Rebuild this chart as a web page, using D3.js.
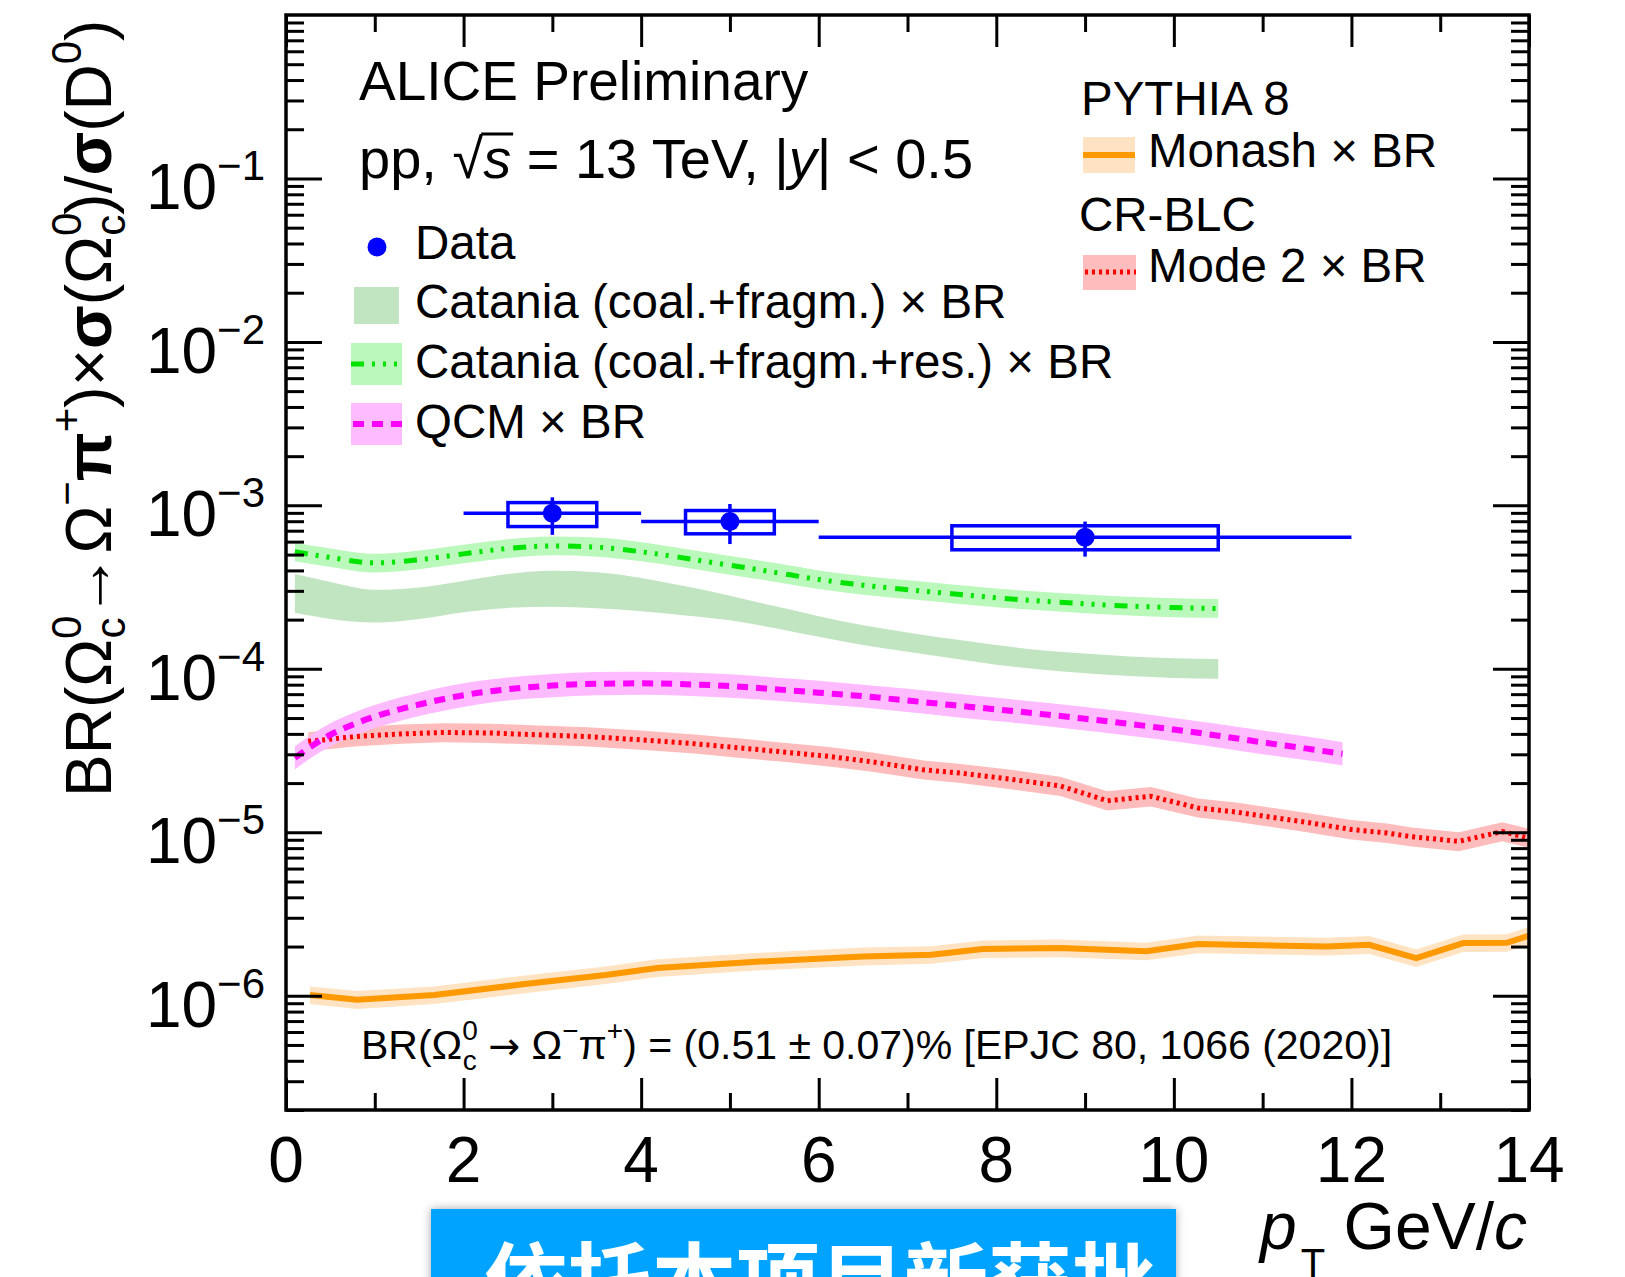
<!DOCTYPE html>
<html><head><meta charset="utf-8">
<script src="https://cdn.jsdelivr.net/npm/d3@7"></script>
<style>
body{margin:0;background:#fff;}
svg text{font-family:"Liberation Sans",Arial,Helvetica,sans-serif;fill:#000;}
</style>
</head><body>
<svg id="c" width="1625" height="1277"></svg>
<script>
// ---------------- data ----------------
const xTickMajor=[0,2,4,6,8,10,12,14];
const xTickLabels=["0","2","4","6","8","10","12","14"];
const yTickExps=[-1,-2,-3,-4,-5,-6];

const dataPt=[3,5,9];
const dataVal=[8.96e-4,7.96e-4,6.39e-4];
const dataXlo=[2,4,6];
const dataXhi=[4,6,12];
const dataStatLo=[6.6e-4,5.8e-4,4.86e-4];
const dataStatHi=[1.12e-3,1.02e-3,7.96e-4];
const dataSysXlo=[2.5,4.5,7.5];
const dataSysXhi=[3.5,5.5,10.5];
const dataSysLo=[7.42e-4,6.7e-4,5.35e-4];
const dataSysHi=[1.04e-3,9.3e-4,7.5e-4];

const catX=[0.1,0.5,1,1.5,2,2.5,3,3.5,4,4.5,5,5.5,6,6.5,7,7.5,8,8.5,9,9.5,10,10.5];
const catFragHi=[3.8e-4,3.4e-4,3.05e-4,3.15e-4,3.45e-4,3.8e-4,3.98e-4,3.9e-4,3.6e-4,3.2e-4,2.8e-4,2.42e-4,2.1e-4,1.85e-4,1.67e-4,1.52e-4,1.4e-4,1.3e-4,1.24e-4,1.19e-4,1.16e-4,1.15e-4];
const catFragLo=[2.2e-4,2.02e-4,1.92e-4,2.02e-4,2.22e-4,2.36e-4,2.4e-4,2.35e-4,2.25e-4,2.12e-4,1.98e-4,1.78e-4,1.57e-4,1.4e-4,1.27e-4,1.16e-4,1.06e-4,0.99e-4,0.94e-4,0.905e-4,0.88e-4,0.87e-4];
const catResMid=[5.2e-4,4.8e-4,4.45e-4,4.65e-4,5.05e-4,5.45e-4,5.65e-4,5.55e-4,5.2e-4,4.75e-4,4.3e-4,3.9e-4,3.52e-4,3.25e-4,3.05e-4,2.88e-4,2.72e-4,2.6e-4,2.5e-4,2.42e-4,2.37e-4,2.34e-4];
const catResHi=[5.9e-4,5.45e-4,5.05e-4,5.3e-4,5.75e-4,6.2e-4,6.45e-4,6.35e-4,5.95e-4,5.4e-4,4.9e-4,4.45e-4,4.0e-4,3.7e-4,3.48e-4,3.28e-4,3.1e-4,2.96e-4,2.85e-4,2.76e-4,2.7e-4,2.67e-4];
const catResLo=[4.55e-4,4.2e-4,3.88e-4,4.07e-4,4.42e-4,4.77e-4,4.95e-4,4.85e-4,4.55e-4,4.15e-4,3.76e-4,3.41e-4,3.08e-4,2.84e-4,2.67e-4,2.52e-4,2.38e-4,2.28e-4,2.19e-4,2.12e-4,2.07e-4,2.05e-4];

const qcmX=[0.1,0.3,0.5,0.75,1,1.25,1.5,2,2.5,3,3.5,4,4.5,5,5.5,6,6.5,7,7.5,8,8.5,9,9.5,10,10.5,11,11.5,11.9];
const qcmMid=[2.85e-5,3.4e-5,3.95e-5,4.55e-5,5.1e-5,5.6e-5,6.05e-5,6.9e-5,7.5e-5,7.9e-5,8.1e-5,8.15e-5,8.05e-5,7.85e-5,7.5e-5,7.15e-5,6.8e-5,6.4e-5,6.0e-5,5.65e-5,5.3e-5,4.95e-5,4.6e-5,4.25e-5,3.9e-5,3.55e-5,3.25e-5,3.02e-5];
const qcmHi=[3.36e-5,4.0e-5,4.65e-5,5.35e-5,6.0e-5,6.6e-5,7.15e-5,8.15e-5,8.85e-5,9.3e-5,9.55e-5,9.6e-5,9.5e-5,9.25e-5,8.85e-5,8.45e-5,8.0e-5,7.55e-5,7.1e-5,6.65e-5,6.25e-5,5.85e-5,5.45e-5,5.0e-5,4.6e-5,4.2e-5,3.85e-5,3.56e-5];
const qcmLo=[2.42e-5,2.9e-5,3.35e-5,3.87e-5,4.35e-5,4.75e-5,5.15e-5,5.85e-5,6.4e-5,6.7e-5,6.9e-5,6.95e-5,6.85e-5,6.65e-5,6.4e-5,6.1e-5,5.8e-5,5.45e-5,5.1e-5,4.8e-5,4.5e-5,4.2e-5,3.9e-5,3.6e-5,3.3e-5,3.0e-5,2.76e-5,2.57e-5];

const mode2X=[0.25,0.8,1.3,1.77,2.3,2.83,3.4,3.99,4.6,5.15,5.6,6.12,6.6,7.18,7.6,8.14,8.72,9.25,9.74,10.27,10.7,11.04,11.5,12.0,12.4,12.68,13.21,13.7,14.0];
const mode2Mid=[3.6e-5,3.86e-5,4.0e-5,4.08e-5,4.05e-5,3.95e-5,3.85e-5,3.68e-5,3.48e-5,3.27e-5,3.1e-5,2.91e-5,2.7e-5,2.41e-5,2.3e-5,2.12e-5,1.92e-5,1.56e-5,1.66e-5,1.41e-5,1.33e-5,1.25e-5,1.15e-5,1.04e-5,9.9e-6,9.4e-6,8.8e-6,1.01e-5,9.2e-6];
const mode2Hi=[4.1e-5,4.4e-5,4.56e-5,4.65e-5,4.62e-5,4.5e-5,4.39e-5,4.2e-5,3.97e-5,3.73e-5,3.53e-5,3.32e-5,3.08e-5,2.75e-5,2.62e-5,2.42e-5,2.19e-5,1.78e-5,1.89e-5,1.61e-5,1.52e-5,1.43e-5,1.31e-5,1.19e-5,1.13e-5,1.07e-5,1.0e-5,1.15e-5,1.05e-5];
const mode2Lo=[3.13e-5,3.36e-5,3.48e-5,3.55e-5,3.52e-5,3.44e-5,3.35e-5,3.2e-5,3.03e-5,2.84e-5,2.7e-5,2.53e-5,2.35e-5,2.1e-5,2.0e-5,1.84e-5,1.67e-5,1.36e-5,1.44e-5,1.23e-5,1.16e-5,1.09e-5,1.0e-5,9.05e-6,8.6e-6,8.2e-6,7.65e-6,8.8e-6,8.0e-6];

const monX=[0.27,0.8,1.67,2.64,3.6,4.18,5.34,6.5,7.27,7.85,8.72,9.69,10.27,11.72,12.2,12.73,13.26,13.75,14.0];
const monMid=[1.01e-6,9.45e-7,1.01e-6,1.17e-6,1.34e-6,1.48e-6,1.62e-6,1.74e-6,1.78e-6,1.93e-6,1.96e-6,1.87e-6,2.07e-6,2.0e-6,2.05e-6,1.70e-6,2.1e-6,2.11e-6,2.33e-6];
const monHi=[1.14e-6,1.07e-6,1.14e-6,1.32e-6,1.51e-6,1.67e-6,1.83e-6,1.97e-6,2.01e-6,2.18e-6,2.21e-6,2.11e-6,2.34e-6,2.26e-6,2.32e-6,1.92e-6,2.37e-6,2.38e-6,2.63e-6];
const monLo=[8.9e-7,8.3e-7,8.9e-7,1.03e-6,1.18e-6,1.3e-6,1.43e-6,1.53e-6,1.57e-6,1.7e-6,1.72e-6,1.65e-6,1.82e-6,1.76e-6,1.8e-6,1.5e-6,1.85e-6,1.86e-6,2.05e-6];

// ---------------- layout ----------------
const L=286,R=1529,T=15,B=1110;
const svg=d3.select("#c");
const x=d3.scaleLinear().domain([0,14]).range([L,R]);
const y=d3.scaleLog().domain([2.0e-7,1]).range([B,T]);

const defs=svg.append("defs");
defs.append("clipPath").attr("id","clip").append("rect").attr("x",L).attr("y",T).attr("width",R-L).attr("height",B-T);
const f=defs.append("filter").attr("id","sh").attr("x","-10%").attr("y","-30%").attr("width","120%").attr("height","160%");
f.append("feDropShadow").attr("dx",0).attr("dy",0).attr("stdDeviation",5).attr("flood-color","#000").attr("flood-opacity",0.35);

const plot=svg.append("g").attr("clip-path","url(#clip)");

function band(xs,lo,hi,color,curve){
  const a=d3.area().x((d,i)=>x(xs[i])).y0((d,i)=>y(lo[i])).y1((d,i)=>y(hi[i])).curve(curve);
  plot.append("path").attr("d",a(xs)).attr("fill",color).attr("stroke","none");
}
function line(xs,vs,color,w,dash,curve){
  const l=d3.line().x((d,i)=>x(xs[i])).y((d,i)=>y(vs[i])).curve(curve);
  plot.append("path").attr("d",l(xs)).attr("fill","none").attr("stroke",color).attr("stroke-width",w).attr("stroke-dasharray",dash);
}
const smooth=d3.curveMonotoneX, lin=d3.curveLinear;
// colors
const cFrag="#c1e5c1", cResBand="#bbf8bb", cResLine="#00e400";
const cQcmBand="#ffbbff", cQcmLine="#ff00ff";
const cM2Band="#ffbcbc", cM2Line="#ff0000";
const cMonBand="#ffe3c2", cMonLine="#ff9900";
const dashRes="13,8,3,8,3,8,3,9", dashQcm="11,8", dashM2="3,4";

band(monX,monLo,monHi,cMonBand,lin);
band(mode2X,mode2Lo,mode2Hi,cM2Band,lin);
band(qcmX,qcmLo,qcmHi,cQcmBand,smooth);
band(catX,catFragLo,catFragHi,cFrag,smooth);
band(catX,catResLo,catResHi,cResBand,smooth);
line(monX,monMid,cMonLine,6,null,lin);
line(mode2X,mode2Mid,cM2Line,5,dashM2,lin);
line(qcmX,qcmMid,cQcmLine,6,dashQcm,smooth);
line(catX,catResMid,cResLine,5,dashRes,smooth);

// data
const blue="#0000ff";
dataPt.forEach((p,i)=>{
  plot.append("line").attr("x1",x(dataXlo[i])).attr("x2",x(dataXhi[i])).attr("y1",y(dataVal[i])).attr("y2",y(dataVal[i])).attr("stroke",blue).attr("stroke-width",3.5);
  plot.append("line").attr("x1",x(p)).attr("x2",x(p)).attr("y1",y(dataStatLo[i])).attr("y2",y(dataStatHi[i])).attr("stroke",blue).attr("stroke-width",3.5);
  plot.append("rect").attr("x",x(dataSysXlo[i])).attr("width",x(dataSysXhi[i])-x(dataSysXlo[i]))
    .attr("y",y(dataSysHi[i])).attr("height",y(dataSysLo[i])-y(dataSysHi[i])).attr("fill","none").attr("stroke",blue).attr("stroke-width",3.5);
  plot.append("circle").attr("cx",x(p)).attr("cy",y(dataVal[i])).attr("r",9.5).attr("fill",blue);
});

// ---------------- axes ----------------
const ax=svg.append("g");
const majX=32, minX=17, majY=36, minY=18;
const xMinor=d3.range(1,14,2);
ax.append("g").attr("transform",`translate(0,${B})`).call(d3.axisBottom(x).tickValues(xTickMajor).tickSize(-majX).tickFormat(""));
ax.append("g").attr("transform",`translate(0,${B})`).call(d3.axisBottom(x).tickValues(xMinor).tickSize(-minX).tickFormat(""));
ax.append("g").attr("transform",`translate(0,${T})`).call(d3.axisTop(x).tickValues(xTickMajor).tickSize(-majX).tickFormat(""));
ax.append("g").attr("transform",`translate(0,${T})`).call(d3.axisTop(x).tickValues(xMinor).tickSize(-minX).tickFormat(""));
const yMajor=[], yMinor=[];
for(let k=-7;k<=0;k++){ yMajor.push(Math.pow(10,k)); for(let m=2;m<=9;m++){const v=m*Math.pow(10,k); if(v>=2.0e-7&&v<1) yMinor.push(v);} }
const yMajIn=yMajor.filter(v=>v>=2e-7&&v<1);
ax.append("g").attr("transform",`translate(${L},0)`).call(d3.axisLeft(y).tickValues(yMajIn).tickSize(-majY).tickFormat(""));
ax.append("g").attr("transform",`translate(${L},0)`).call(d3.axisLeft(y).tickValues(yMinor).tickSize(-minY).tickFormat(""));
ax.append("g").attr("transform",`translate(${R},0)`).call(d3.axisRight(y).tickValues(yMajIn).tickSize(-majY).tickFormat(""));
ax.append("g").attr("transform",`translate(${R},0)`).call(d3.axisRight(y).tickValues(yMinor).tickSize(-minY).tickFormat(""));
ax.selectAll(".domain").remove();
ax.selectAll(".tick line").attr("stroke","#000").attr("stroke-width",3);
svg.append("rect").attr("x",L).attr("y",T).attr("width",R-L).attr("height",B-T).attr("fill","none").attr("stroke","#000").attr("stroke-width",3.5);

// x tick labels
xTickMajor.forEach((v,i)=>{
  svg.append("text").attr("x",x(v)).attr("y",1182).attr("text-anchor","middle").attr("font-size",64).text(xTickLabels[i]);
});
// y tick labels
yTickExps.forEach(k=>{
  const t=svg.append("text").attr("x",265).attr("y",y(Math.pow(10,k))+31).attr("text-anchor","end").attr("font-size",64);
  t.append("tspan").text("10");
  t.append("tspan").attr("font-size",42).attr("dy",-29).text("\u2212"+(-k));
});

// x title
const xt=svg.append("text").attr("x",1527).attr("y",1249).attr("text-anchor","end").attr("font-size",66);
xt.append("tspan").attr("font-style","italic").text("p");
xt.append("tspan").attr("font-size",40).attr("dy",28).attr("dx",4).text("T");
xt.append("tspan").attr("dy",-28).text(" GeV/");
xt.append("tspan").attr("font-style","italic").text("c");

// y title
const yt=svg.append("text").attr("transform","translate(111,797) rotate(-90)").attr("font-size",64);
yt.append("tspan").text("BR(\u03A9");
yt.append("tspan").attr("font-size",42).attr("dy",-30).text("0");
yt.append("tspan").attr("font-size",42).attr("dx",-23).attr("dy",44).text("c");
yt.append("tspan").attr("dy",-14).text("\u2192\u03A9");
yt.append("tspan").attr("font-size",42).attr("dy",-30).text("\u2212");
yt.append("tspan").attr("dy",30).attr("font-weight","bold").text("\u03C0");
yt.append("tspan").attr("font-size",42).attr("dy",-30).text("+");
yt.append("tspan").attr("dy",30).text(")\u00D7");
yt.append("tspan").attr("font-weight","bold").text("\u03C3");
yt.append("tspan").text("(\u03A9");
yt.append("tspan").attr("font-size",42).attr("dy",-30).text("0");
yt.append("tspan").attr("font-size",42).attr("dx",-23).attr("dy",44).text("c");
yt.append("tspan").attr("dy",-14).text(")/");
yt.append("tspan").attr("font-weight","bold").text("\u03C3");
yt.append("tspan").text("(D");
yt.append("tspan").attr("font-size",42).attr("dy",-30).text("0");
yt.append("tspan").attr("dy",30).text(")");

// header texts
svg.append("text").attr("x",359).attr("y",100).attr("font-size",55).text("ALICE Preliminary");
const pp=svg.append("text").attr("x",359).attr("y",178).attr("font-size",56);
pp.append("tspan").text("pp, \u221A");
pp.append("tspan").attr("font-style","italic").text("s");
pp.append("tspan").text(" = 13 TeV, |");
pp.append("tspan").attr("font-style","italic").text("y");
pp.append("tspan").text("| < 0.5");
{ const n=pp.node(); const e=n.getExtentOfChar(5);
  svg.append("line").attr("x1",e.x-2).attr("x2",e.x+e.width+2).attr("y1",134).attr("y2",134).attr("stroke","#000").attr("stroke-width",3); }

// left legend
const lfs=47.5;
svg.append("circle").attr("cx",377).attr("cy",247).attr("r",9.5).attr("fill",blue);
svg.append("text").attr("x",415).attr("y",259).attr("font-size",lfs).text("Data");
svg.append("rect").attr("x",354).attr("y",287).attr("width",45).attr("height",37).attr("fill",cFrag);
svg.append("text").attr("x",415).attr("y",318).attr("font-size",lfs).text("Catania (coal.+fragm.) \u00D7 BR");
svg.append("rect").attr("x",351).attr("y",343).attr("width",51).attr("height",42).attr("fill",cResBand);
svg.append("line").attr("x1",351).attr("x2",402).attr("y1",364).attr("y2",364).attr("stroke",cResLine).attr("stroke-width",5).attr("stroke-dasharray",dashRes);
svg.append("text").attr("x",415).attr("y",378).attr("font-size",lfs).text("Catania (coal.+fragm.+res.) \u00D7 BR");
svg.append("rect").attr("x",351).attr("y",403).attr("width",51).attr("height",42).attr("fill",cQcmBand);
svg.append("line").attr("x1",353).attr("x2",402).attr("y1",424).attr("y2",424).attr("stroke",cQcmLine).attr("stroke-width",6).attr("stroke-dasharray",dashQcm);
svg.append("text").attr("x",415).attr("y",438).attr("font-size",lfs).text("QCM \u00D7 BR");

// right legend
svg.append("text").attr("x",1081).attr("y",115).attr("font-size",lfs).text("PYTHIA 8");
svg.append("rect").attr("x",1083).attr("y",137).attr("width",52).attr("height",36).attr("fill",cMonBand);
svg.append("line").attr("x1",1083).attr("x2",1135).attr("y1",155).attr("y2",155).attr("stroke",cMonLine).attr("stroke-width",6);
svg.append("text").attr("x",1148).attr("y",167).attr("font-size",lfs).text("Monash \u00D7 BR");
svg.append("text").attr("x",1079).attr("y",231).attr("font-size",lfs).text("CR-BLC");
svg.append("rect").attr("x",1083).attr("y",255).attr("width",53).attr("height",35).attr("fill",cM2Band);
svg.append("line").attr("x1",1085).attr("x2",1136).attr("y1",272).attr("y2",272).attr("stroke",cM2Line).attr("stroke-width",5).attr("stroke-dasharray",dashM2);
svg.append("text").attr("x",1148).attr("y",282).attr("font-size",lfs).text("Mode 2 \u00D7 BR");

// bottom formula
const bf=svg.append("text").attr("x",361).attr("y",1059).attr("font-size",41);
bf.append("tspan").text("BR(\u03A9");
bf.append("tspan").attr("font-size",28).attr("dy",-19).text("0");
bf.append("tspan").attr("font-size",28).attr("dx",-15).attr("dy",30).text("c");
bf.append("tspan").attr("dy",-11).text(" ");
bf.append("tspan").style("font-family","'DejaVu Sans',sans-serif").attr("font-size",38).text("\u2192");
bf.append("tspan").text(" \u03A9");
bf.append("tspan").attr("font-size",28).attr("dy",-19).text("\u2212");
bf.append("tspan").attr("dy",19).text("\u03C0");
bf.append("tspan").attr("font-size",28).attr("dy",-19).text("+");
bf.append("tspan").attr("dy",19).text(") = (0.51 \u00B1 0.07)% [EPJC 80, 1066 (2020)]");

// banner
svg.append("rect").attr("x",431).attr("y",1209).attr("width",745).attr("height",120).attr("fill","#00a3ff").attr("filter","url(#sh)");
svg.append("text").attr("x",484).attr("y",1313).attr("font-size",84).attr("font-weight","bold")
  .style("font-family","'Noto Sans CJK SC',sans-serif").style("fill","#fff").text("依托本项目新获批");
</script>
</body></html>
